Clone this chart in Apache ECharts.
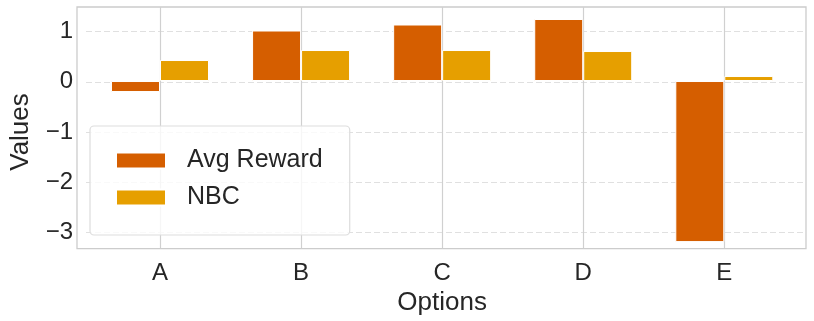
<!DOCTYPE html>
<html>
<head>
<meta charset="utf-8">
<script src="https://cdn.jsdelivr.net/npm/echarts@6/dist/echarts.min.js"></script>
<style>
  html, body { margin: 0; padding: 0; background: #fff; }
  #chart { width: 814px; height: 321px; }
</style>
</head>
<body>
<div id="chart"></div>
<script>
// data
const options = ["A", "B", "C", "D", "E"];
const avgReward = [-0.22, 1.01, 1.13, 1.24, -3.22];
const nbc = [0.42, 0.62, 0.62, 0.60, 0.10];
const yTicks = [-3, 1]; // min / max of labelled ticks

const font = "Liberation Sans, Arial, sans-serif";
const chart = echarts.init(document.getElementById("chart"));

// bars sit on a value x axis where category i is at x = i
const toPts = (arr) => arr.map((v, i) => [i, v]);

let option = {
  animation: false,
  backgroundColor: "#ffffff",
  grid: [
    // frame
    { left: 77, right: 8, top: 7, bottom: 72.3, show: true, borderColor: "#cccccc", borderWidth: 1.3, backgroundColor: "transparent" },
    // horizontal dashed lines + y labels
    { left: 77, right: 8, top: 31.7, bottom: 88.7 },
    // bars + vertical lines
    { left: 160, right: 89.7, top: 7, bottom: 72.3 },
  ],
  xAxis: [
    { gridIndex: 0, type: "value", show: false, min: 0, max: 1 },
    { gridIndex: 1, type: "value", show: false, min: 0, max: 1 },
    {
      gridIndex: 2,
      type: "value",
      min: 0,
      max: options.length - 1,
      interval: 1,
      axisLine: { show: false },
      axisTick: { show: false },
      splitLine: { show: true, lineStyle: { color: "#d0d0d0", width: 1.2, type: "solid" } },
      axisLabel: {
        margin: 13,
        fontFamily: font,
        fontSize: 24,
        color: "#262626",
        formatter: (v) => options[Math.round(v)] || "",
      },
      name: "Options",
      nameLocation: "middle",
      nameGap: 34,
      nameTextStyle: { fontFamily: font, fontSize: 26, color: "#262626" },
    },
  ],
  yAxis: [
    { gridIndex: 0, type: "value", show: false, min: 0, max: 1 },
    {
      gridIndex: 1,
      type: "value",
      min: yTicks[0],
      max: yTicks[1],
      interval: 1,
      axisLine: { show: false },
      axisTick: { show: false },
      splitLine: { show: true, lineStyle: { color: "#e0e0e0", width: 1.2, type: [6, 3] } },
      axisLabel: {
        margin: 13,
        fontFamily: font,
        fontSize: 24,
        color: "#262626",
        formatter: (v) => (v < 0 ? "\u2212" + Math.abs(v) : String(v)),
      },
      name: "Values",
      nameLocation: "middle",
      nameGap: 52,
      nameRotate: 90,
      nameTextStyle: { fontFamily: font, fontSize: 26, color: "#262626" },
    },
    {
      gridIndex: 2,
      type: "value",
      min: -3.34,
      max: 1.48,
      show: false,
      splitLine: { show: false },
    },
  ],
  legend: {
    orient: "vertical",
    left: 90,
    top: 126,
    padding: [22, 27, 25, 25],
    itemWidth: 50,
    itemHeight: 16,
    itemGap: 12,
    icon: "rect",
    backgroundColor: "rgba(255,255,255,0.8)",
    borderColor: "#dddddd",
    borderWidth: 1.2,
    borderRadius: 4,
    textStyle: { fontFamily: font, fontSize: 25, color: "#262626", padding: [0, 0, 0, 16] },
    data: ["Avg Reward", "NBC"],
    z: 10,
  },
  series: [
    {
      name: "Avg Reward",
      type: "bar",
      xAxisIndex: 2,
      yAxisIndex: 2,
      data: toPts(avgReward),
      barWidth: 49,
      barGap: "0%",
      clip: false,
      itemStyle: { color: "#D55E00", borderColor: "#ffffff", borderWidth: 1 },
    },
    {
      name: "NBC",
      type: "bar",
      xAxisIndex: 2,
      yAxisIndex: 2,
      data: toPts(nbc),
      barWidth: 49,
      barGap: "0%",
      clip: false,
      itemStyle: { color: "#E69F00", borderColor: "#ffffff", borderWidth: 1 },
    },
  ],
};

chart.setOption(option);
</script>
</body>
</html>
